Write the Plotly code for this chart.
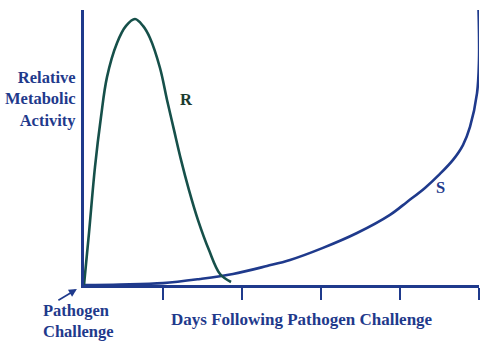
import plotly.graph_objects as go

# Data (x in tick units, y in % of axis height)
r_x = [0, 0.063, 0.139, 0.215, 0.291, 0.418, 0.532, 0.646, 0.747, 0.835, 0.962, 1.051,
       1.139, 1.228, 1.329, 1.443, 1.582, 1.722, 1.861]
r_y = [0, 18.9, 42.9, 61.1, 75.6, 88.0, 94.2, 96.7, 94.2, 89.8, 78.9, 67.3,
       56.4, 45.5, 34.5, 23.6, 12.7, 4.0, 1.1]

s_x = [0, 0.456, 1.0, 1.468, 1.886, 2.316, 2.608, 3.025, 3.456, 3.873, 4.089, 4.316,
       4.506, 4.671, 4.797, 4.886, 4.975, 5.0, 5.0, 4.994]
s_y = [0, 0.2, 0.7, 2.2, 4.0, 6.9, 9.1, 13.5, 18.9, 25.5, 30.2, 35.3,
       40.4, 45.5, 50.9, 57.5, 69.8, 81.8, 91.6, 100]

tick_vals = [1, 2, 3, 4, 5]

NAVY = "#1f3a8c"
GREEN = "#16504a"
FONT = "Liberation Serif"

fig = go.Figure()
fig.add_trace(go.Scatter(x=s_x, y=s_y, mode="lines",
                         line=dict(color=NAVY, width=2.6, shape="spline", smoothing=1),
                         hoverinfo="skip"))
fig.add_trace(go.Scatter(x=r_x, y=r_y, mode="lines",
                         line=dict(color=GREEN, width=2.6, shape="spline", smoothing=1),
                         hoverinfo="skip"))

fig.update_layout(
    width=500, height=355,
    margin=dict(l=84, r=21, t=10, b=70),
    paper_bgcolor="white", plot_bgcolor="white",
    showlegend=False,
    xaxis=dict(range=[0, 5], showgrid=False, zeroline=False, showline=True,
               linecolor=NAVY, linewidth=3, tickvals=tick_vals, ticks="outside",
               ticklen=12, tickwidth=2, tickcolor=NAVY, showticklabels=False),
    yaxis=dict(range=[0, 100], showgrid=False, zeroline=False, showline=True,
               linecolor=NAVY, linewidth=3, ticks="", showticklabels=False),
    font=dict(family=FONT, color=NAVY, size=16),
)

fig.add_annotation(text="<b>Relative<br>Metabolic<br>Activity</b>", xref="paper", yref="paper",
                   x=-0.015, y=0.676, xanchor="right", yanchor="middle", align="right",
                   showarrow=False, font=dict(size=16.5, color=NAVY, family=FONT))
fig.add_annotation(text="<b>Days Following Pathogen Challenge</b>", xref="paper", yref="paper",
                   x=0.552, y=-0.124, xanchor="center", yanchor="middle",
                   showarrow=False, font=dict(size=17, color=NAVY, family=FONT))
fig.add_annotation(text="<b>Pathogen<br>Challenge</b>", xref="paper", yref="paper",
                   x=-0.11, y=-0.131, xanchor="left", yanchor="middle", align="left",
                   showarrow=False, font=dict(size=16.5, color=NAVY, family=FONT))
fig.add_annotation(text="", xref="paper", yref="paper", x=-0.018, y=-0.015,
                   showarrow=True, arrowhead=2, arrowsize=1, arrowwidth=1.6,
                   arrowcolor=NAVY, ax=-20, ay=12)
fig.add_annotation(text="<b>R</b>", x=1.30, y=67.3, showarrow=False,
                   font=dict(size=16.5, color="#1d3b2f", family=FONT))
fig.add_annotation(text="<b>S</b>", x=4.51, y=35.6, showarrow=False,
                   font=dict(size=16.5, color=NAVY, family=FONT))

fig.write_html("out.html", config={"displayModeBar": False},
               post_script="document.body.style.margin='0px';")
